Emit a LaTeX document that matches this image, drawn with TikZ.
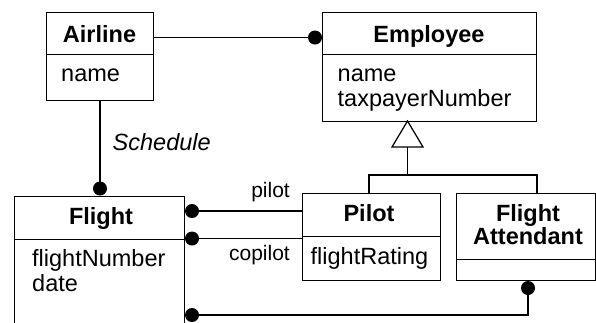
\documentclass[tikz,border=0pt]{standalone}
\usepackage{fontspec}
\setmainfont{Liberation Sans}
\begin{document}
\begin{tikzpicture}[x=1pt,y=-1pt,
  cls/.style={draw, line width=1.25pt, inner sep=0pt, anchor=north west},
  ln/.style={line width=1.25pt},
  dot/.style={circle, fill=black, inner sep=0pt, minimum size=14pt},
  ttl/.style={anchor=base, inner sep=0pt, font=\fontsize{23.5}{25}\selectfont\bfseries},
  att/.style={anchor=base west, inner sep=0pt, font=\fontsize{23.5}{25}\selectfont},
  lbl/.style={anchor=base east, inner sep=0pt, font=\fontsize{21}{23}\selectfont}]
\useasboundingbox (0,0) rectangle (596,322);
\clip (0,0) rectangle (596,322);
% Airline
\node[cls, minimum width=107pt, minimum height=42pt] (airT) at (46,12) {};
\node[cls, minimum width=107pt, minimum height=46pt] (airA) at (46,54) {};
\node[ttl] (airName) at (99.5,42.5) {Airline};
\node[att] (airAt) at (61,81.5) {name};
% Employee
\node[cls, minimum width=214pt, minimum height=42pt] (empT) at (322,12) {};
\node[cls, minimum width=214pt, minimum height=67pt] (empA) at (322,54) {};
\node[ttl] (empName) at (429,42.5) {Employee};
\node[att] (empAt1) at (337.5,81) {name};
\node[att] (empAt2) at (337.5,106) {taxpayerNumber};
% Flight
\node[cls, minimum width=170pt, minimum height=43pt] (fltT) at (14,196) {};
\node[cls, minimum width=170pt, minimum height=100pt] (fltA) at (14,239) {};
\node[ttl] (fltName) at (101,224.5) {Flight};
\node[att] (fltAt1) at (32,266.5) {flightNumber};
\node[att] (fltAt2) at (32,291.5) {date};
% Pilot
\node[cls, minimum width=138pt, minimum height=43pt] (pilT) at (302,193) {};
\node[cls, minimum width=138pt, minimum height=44pt] (pilA) at (302,236) {};
\node[ttl] (pilName) at (369,221) {Pilot};
\node[att] (pilAt) at (310.5,264) {flightRating};
% Flight Attendant
\node[cls, minimum width=139pt, minimum height=66pt] (faT) at (456,193) {};
\node[cls, minimum width=139pt, minimum height=21pt] (faA) at (456,259) {};
\node[ttl] (faName1) at (528,221) {Flight};
\node[ttl] (faName2) at (528,244) {Attendant};
% association dots
\node[dot] (d1) at (315,37.5) {};
\node[dot] (d2) at (100,188.5) {};
\node[dot] (d3) at (192,211) {};
\node[dot] (d4) at (192,238.5) {};
\node[dot] (d5) at (528,288) {};
\node[dot] (d6) at (192,315) {};
\draw[ln] (d1.center) -- (d1.center -| airT.east);
\draw[ln] (d2.center) -- (d2.center |- airA.south);
\draw[ln] (d3.center) -- (d3.center -| pilT.west);
\draw[ln] (d4.center) -- (d4.center -| pilA.west);
\draw[ln] (d5.center) |- (d6.center);
% labels
\node[anchor=base west, inner sep=0pt, font=\fontsize{23.5}{25}\selectfont\itshape] (sch) at (112.5,150.5) {Schedule};
\node[lbl] (lp) at (290,197.5) {pilot};
\node[lbl] (lc) at (290,260.5) {copilot};
% generalization
\coordinate (tip) at (407.5,121);
\coordinate (tb) at (407.5,147);
\coordinate (jn) at (407.5,175);
\coordinate (jl) at (369,175);
\coordinate (jr) at (537,175);
\draw[ln, line join=miter] (tip) -- ++(-15.5,26) -- ++(31,0) -- cycle;
\draw[ln] (tb) -- (jn);
\draw[ln] (jl |- pilT.north) -- (jl) -- (jr) -- (jr |- faT.north);
\end{tikzpicture}
\end{document}
